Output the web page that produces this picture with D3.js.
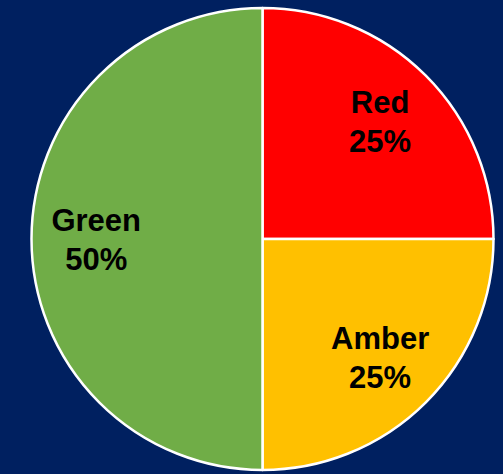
<!DOCTYPE html>
<html><head><meta charset="utf-8">
<script src="https://cdn.jsdelivr.net/npm/d3@7"></script>
<style>html,body{margin:0;padding:0;background:#002060;overflow:hidden}</style>
</head><body>
<svg id="chart" width="503" height="474"></svg>
<script>
const categories = ["Red", "Amber", "Green"];
const values = [25, 25, 50];
const colors = ["#FF0000", "#FFC000", "#70AD47"];

const svg = d3.select("#chart");
const W = 503, H = 474;
svg.append("rect").attr("width", W).attr("height", H).attr("fill", "#002060");
const cx = 262.5, cy = 239, R = 231;
const g = svg.append("g").attr("transform", `translate(${cx},${cy})`);

const data = categories.map((c, i) => ({ name: c, value: values[i], color: colors[i] }));
const pie = d3.pie().sort(null).value(d => d.value);
const arc = d3.arc().innerRadius(0).outerRadius(R);
const labelArc = d3.arc().innerRadius(R * 0.72).outerRadius(R * 0.72);
const total = d3.sum(values);
const arcs = pie(data);

g.selectAll("path").data(arcs).join("path")
  .attr("d", arc)
  .attr("fill", d => d.data.color)
  .attr("stroke", "#FFFFFF")
  .attr("stroke-width", 2.5)
  .attr("stroke-linejoin", "round");

const lab = g.selectAll("text.lab").data(arcs).join("text")
  .attr("class", "lab")
  .attr("font-family", "Liberation Sans, Arial, sans-serif")
  .attr("font-weight", "bold")
  .attr("font-size", 31)
  .attr("fill", "#000")
  .attr("text-anchor", "middle")
  .attr("transform", d => { const [x, y] = labelArc.centroid(d); return `translate(${x},${y})`; });
lab.append("tspan").attr("x", 0).attr("y", -8).text(d => d.data.name);
lab.append("tspan").attr("x", 0).attr("y", 31).text(d => Math.round(d.data.value / total * 100) + "%");
</script>
</body></html>
